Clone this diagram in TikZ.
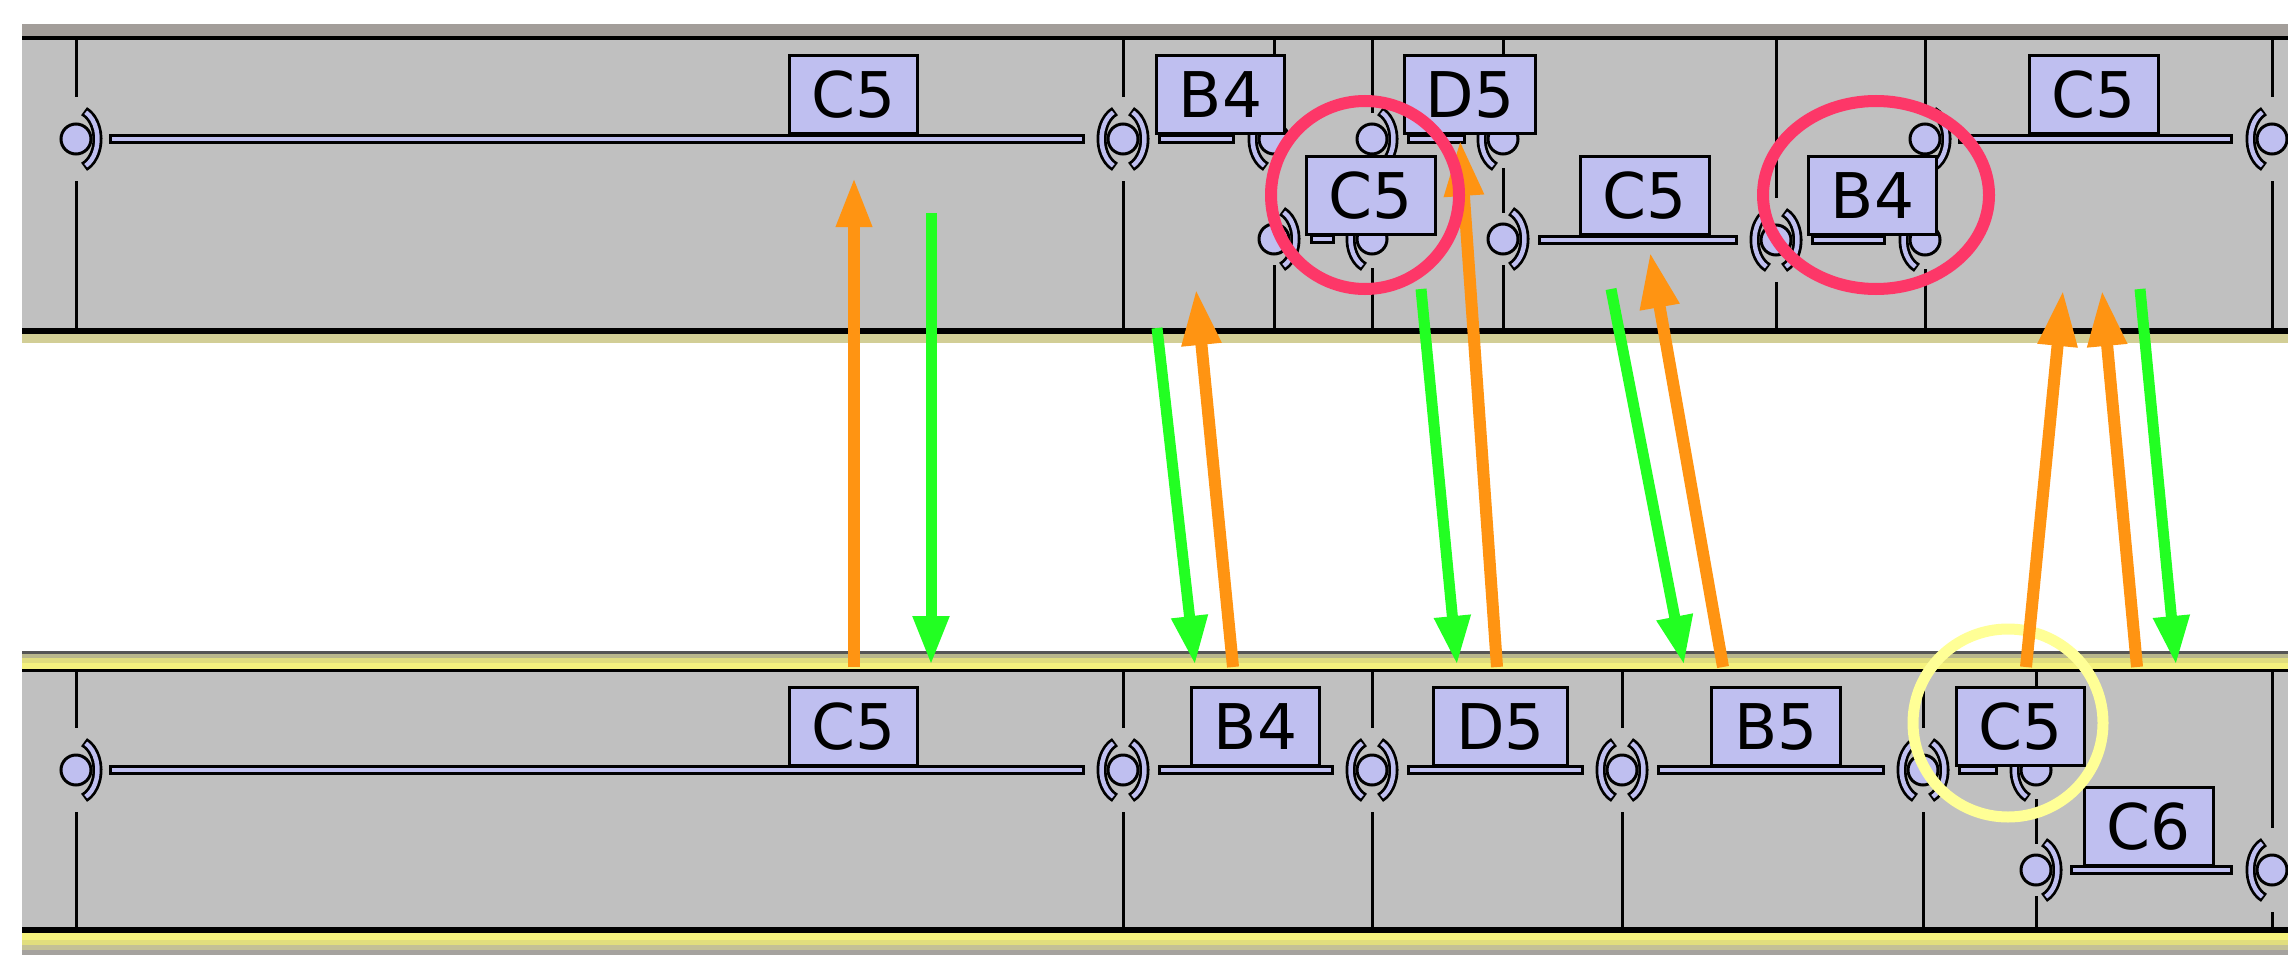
\documentclass[tikz,border=0pt]{standalone}
\usepackage{fontspec}
\setmainfont{DejaVu Sans}
\usetikzlibrary{arrows.meta}
\definecolor{bandgray}{RGB}{192,192,192}
\definecolor{notefill}{RGB}{191,191,240}
\definecolor{topstrip}{RGB}{163,158,154}
\definecolor{paleyellow}{RGB}{210,206,150}
\definecolor{yelA}{RGB}{185,183,140}
\definecolor{yelB}{RGB}{225,222,125}
\definecolor{yelC}{RGB}{245,242,125}
\definecolor{yelD}{RGB}{195,192,150}
\definecolor{baseGray}{RGB}{165,162,158}
\definecolor{darkRule}{RGB}{85,85,85}
\definecolor{arrOrange}{RGB}{255,148,18}
\definecolor{arrGreen}{RGB}{34,255,34}
\definecolor{ringRed}{RGB}{253,55,104}
\definecolor{ringYellow}{RGB}{255,255,150}
\newcommand\susbar[3]{%
  \draw[line width=10pt,black] (#1,#3) -- (#2,#3);
  \draw[line width=4pt,notefill] (#1+3,#3) -- (#2-3,#3);}
\tikzset{
  notebox/.style={draw=black, line width=3pt, fill=notefill, inner sep=0pt,
    font=\fontsize{63pt}{63pt}\selectfont},
  barline/.style={line width=3pt, black},
  oarrow/.style={arrOrange, line width=12pt, -{Triangle[length=56pt,width=37pt]}},
  oarrowv/.style={arrOrange, line width=12pt, -{Triangle[length=50pt,width=33pt]}},
  garrow/.style={arrGreen, line width=11pt, -{Triangle[length=49pt,width=34pt]}},
  pics/gapcut/.style={code={\fill[bandgray] (-3,-#1) rectangle (3,#1);}},
  pics/rarc/.style={code={
    \draw[line width=10pt,black] (-68:21.5 and 30) arc[start angle=-68,end angle=68,x radius=21.5,y radius=30];
    \draw[line width=4.5pt,notefill] (-63:21.5 and 30) arc[start angle=-63,end angle=63,x radius=21.5,y radius=30];}},
  pics/larc/.style={code={
    \draw[line width=10pt,black] (112:21.5 and 30) arc[start angle=112,end angle=248,x radius=21.5,y radius=30];
    \draw[line width=4.5pt,notefill] (117:21.5 and 30) arc[start angle=117,end angle=243,x radius=21.5,y radius=30];}},
  pics/hub/.style={code={\filldraw[fill=notefill,draw=black,line width=3pt] (0,0) circle[radius=15];}},
}
\newcommand\mybox[6]{% name, x1, x2, y1, y2, text
  \node[notebox, minimum width=#3-#2-3pt, minimum height=#5-#4-3pt] (#1) at ({(#2+#3)/2},{(#4+#5)/2}) {#6};}
\begin{document}
\begin{tikzpicture}[x=1pt,y=-1pt]
\useasboundingbox (0,0) rectangle (2288,955);
\fill[white] (0,0) rectangle (2288,955);
% ---------- top band ----------
\fill[bandgray] (22,24) rectangle (2288,343);
\fill[topstrip] (22,24) rectangle (2288,36.5);
\fill[black] (22,36.5) rectangle (2288,40.5);
\fill[black] (22,327.5) rectangle (2288,333.5);
\fill[paleyellow] (22,333.5) rectangle (2288,343);
% ---------- bottom band ----------
\fill[bandgray] (22,651) rectangle (2288,955);
\fill[darkRule] (22,651) rectangle (2288,653.5);
\fill[yelA] (22,653.5) rectangle (2288,658);
\fill[yelB] (22,658) rectangle (2288,663);
\fill[yelC] (22,663) rectangle (2288,668.5);
\fill[black] (22,668.5) rectangle (2288,672);
\fill[black] (22,927) rectangle (2288,933);
\fill[yelC] (22,933) rectangle (2288,940);
\fill[yelB] (22,940) rectangle (2288,945);
\fill[yelD] (22,945) rectangle (2288,950);
\fill[baseGray] (22,950) rectangle (2288,955);
% ---------- bar lines ----------
\foreach \x in {76,1123,1274,1372,1503,1776,1925,2272}
  \draw[barline] (\x,40) -- (\x,328);
\foreach \x in {76,1123,1372,1622,1923,2036,2272}
  \draw[barline] (\x,672) -- (\x,927);
% ---------- gaps in bar lines at connectors ----------
\foreach \x/\y in {76/139,1123/139,1776/240,2272/139,76/770,1123/770,1372/770,1622/770,1923/770,2272/870}
  \pic at (\x,\y) {gapcut=42};
\foreach \x/\y in {1274/239,1372/139,1503/239,1925/139,2036/870}
  \pic at (\x,\y) {gapcut=26};
\foreach \x/\y in {1274/139,1372/239,1503/139,1925/240,2036/770}
  \pic at (\x,\y) {gapcut=29};
% ---------- sustain bars ----------
\susbar{109}{1085}{139}
\susbar{1158}{1235}{139}
\susbar{1310}{1335}{239}
\susbar{1407}{1466}{139}
\susbar{1538}{1738}{240}
\susbar{1811}{1886}{240}
\susbar{1958}{2233}{139}
\susbar{109}{1085}{770}
\susbar{1158}{1334}{770}
\susbar{1407}{1584}{770}
\susbar{1657}{1885}{770}
\susbar{1958}{1998}{770}
\susbar{2070}{2233}{870}
% ---------- connectors ----------
\foreach \x/\y in {76/139,1123/139,1274/239,1372/139,1503/239,1776/240,1925/139,
  76/770,1123/770,1372/770,1622/770,1923/770,2036/870}
  \pic at (\x,\y) {rarc};
\foreach \x/\y in {1123/139,1274/139,1372/239,1503/139,1776/240,1925/240,2272/139,
  1123/770,1372/770,1622/770,1923/770,2036/770,2272/870}
  \pic at (\x,\y) {larc};
\foreach \x/\y in {76/139,1123/139,1274/139,1274/239,1372/139,1372/239,1503/139,1503/239,
  1776/240,1925/240,1925/139,2272/139,76/770,1123/770,1372/770,1622/770,1923/770,2036/770,2036/870,2272/870}
  \pic at (\x,\y) {hub};
% ---------- note boxes ----------
\mybox{tA}{788}{919}{54}{135}{C5}
\mybox{tB}{1155}{1286}{54}{135}{B4}
\mybox{tD}{1403}{1537}{54}{135}{D5}
\mybox{tG}{2028}{2160}{54}{135}{C5}
\mybox{tC}{1305}{1437}{155}{236}{C5}
\mybox{tE}{1579}{1711}{155}{236}{C5}
\mybox{tF}{1807}{1938}{155}{236}{B4}
\mybox{bA}{788}{919}{686}{767}{C5}
\mybox{bB}{1190}{1321}{686}{767}{B4}
\mybox{bD}{1432}{1569}{686}{767}{D5}
\mybox{bE}{1710}{1842}{686}{767}{B5}
\mybox{bF}{1955}{2086}{686}{767}{C5}
\mybox{bG}{2083}{2215}{786}{867}{C6}
% ---------- yellow ring (under arrows) ----------
\draw[ringYellow, line width=11pt] (2008,723) ellipse[x radius=95, y radius=94];
% ---------- arrows ----------
\coordinate (o1s) at (854,667);  \coordinate (o1e) at (854,177);
\coordinate (g1s) at (931,213);  \coordinate (g1e) at (931,665);
\coordinate (g2s) at (1157,328); \coordinate (g2e) at (1195,665);
\coordinate (o2s) at (1233,667); \coordinate (o2e) at (1196,289);
\coordinate (g3s) at (1421,289); \coordinate (g3e) at (1457,665);
\coordinate (o3s) at (1497,667); \coordinate (o3e) at (1460,140);
\coordinate (g4s) at (1611,289); \coordinate (g4e) at (1684,665);
\coordinate (o4s) at (1723,667); \coordinate (o4e) at (1650,252);
\coordinate (o5s) at (2026,667); \coordinate (o5e) at (2063,290);
\coordinate (o6s) at (2137,667); \coordinate (o6e) at (2102,290);
\coordinate (g5s) at (2140,289); \coordinate (g5e) at (2176,665);
\draw[oarrowv] (o1s) -- (o1e);
\foreach \n in {o2,o3,o4,o5,o6} \draw[oarrow] (\n s) -- (\n e);
\foreach \n in {g1,g2,g3,g4,g5} \draw[garrow] (\n s) -- (\n e);
% ---------- red rings ----------
\draw[ringRed, line width=12pt] (1365,195) ellipse[x radius=94, y radius=94];
\draw[ringRed, line width=12pt] (1876,195) ellipse[x radius=113, y radius=94];
\end{tikzpicture}
\end{document}
